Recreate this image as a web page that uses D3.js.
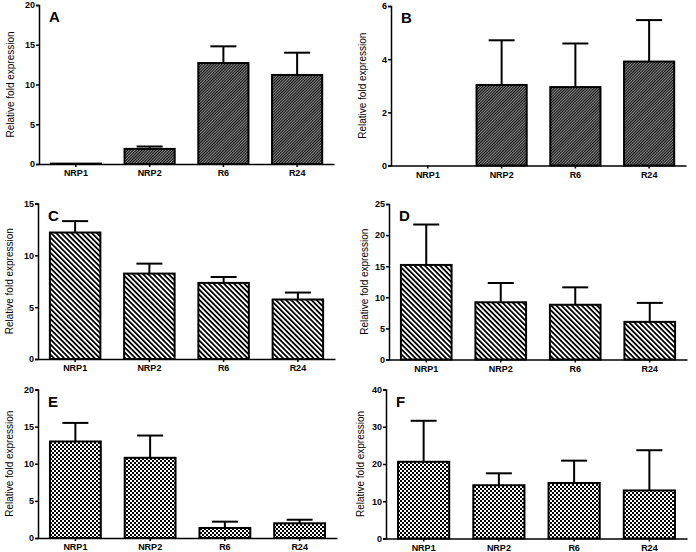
<!DOCTYPE html>
<html>
<head>
<meta charset="utf-8">
<script src="https://cdn.jsdelivr.net/npm/d3@7"></script>
<style>
  body { margin: 0; background: #fff; }
  svg text { font-family: "Liberation Sans", Arial, sans-serif; }
</style>
</head>
<body>
<div class="js-vis"></div>
<script>
// Data (mean and upper error)
const categories = ["NRP1", "NRP2", "R6", "R24"]

const valuesA = [0.05, 1.9, 12.7, 11.2],
    errorsA = [0, 0.3, 2.1, 2.8],
    ticksA = [0, 5, 10, 15, 20]

const valuesB = [0, 3.03, 2.95, 3.91],
    errorsB = [0, 1.68, 1.64, 1.56],
    ticksB = [0, 2, 4, 6]

const valuesC = [12.2, 8.24, 7.34, 5.74],
    errorsC = [1.1, 0.96, 0.57, 0.67],
    ticksC = [0, 5, 10, 15]

const valuesD = [15.2, 9.2, 8.8, 6.05],
    errorsD = [6.5, 3.1, 2.8, 3.05],
    ticksD = [0, 5, 10, 15, 20, 25]

const valuesE = [13.0, 10.8, 1.35, 1.98],
    errorsE = [2.5, 3.0, 0.85, 0.48],
    ticksE = [0, 5, 10, 15, 20]

const valuesF = [20.6, 14.3, 14.9, 12.9],
    errorsF = [11.0, 3.2, 6.0, 10.8],
    ticksF = [0, 10, 20, 30, 40]

const panels = [
  { letter: "A", values: valuesA, errors: errorsA, ticks: ticksA, fill: "hatch", x0: 39, x1: 334, top: 5, bottom: 164, labOff: 25 },
  { letter: "B", values: valuesB, errors: errorsB, ticks: ticksB, fill: "hatch", x0: 391, x1: 686, top: 6, bottom: 165.5, labOff: 25 },
  { letter: "C", values: valuesC, errors: errorsC, ticks: ticksC, fill: "stripe", x0: 38, x1: 335, top: 203.5, bottom: 359, labOff: 25 },
  { letter: "D", values: valuesD, errors: errorsD, ticks: ticksD, fill: "stripe", x0: 389, x1: 687, top: 204, bottom: 359.5, labOff: 21 },
  { letter: "E", values: valuesE, errors: errorsE, ticks: ticksE, fill: "checker", x0: 38, x1: 337, top: 389.5, bottom: 538, labOff: 25 },
  { letter: "F", values: valuesF, errors: errorsF, ticks: ticksF, fill: "checker", x0: 386, x1: 687, top: 389.5, bottom: 538.5, labOff: 22 }
]

const svg = d3.select(".js-vis").append("svg")
  .attr("width", 696)
  .attr("height", 552)

// fill patterns
const defs = svg.append("defs")

const hatch = defs.append("pattern")
  .attr("id", "hatch")
  .attr("patternUnits", "userSpaceOnUse")
  .attr("width", 2).attr("height", 2)
  .attr("patternTransform", "rotate(45)")
hatch.append("rect").attr("width", 2).attr("height", 2).attr("fill", "#888")
hatch.append("rect").attr("width", 1).attr("height", 2).attr("fill", "#111")

const stripe = defs.append("pattern")
  .attr("id", "stripe")
  .attr("patternUnits", "userSpaceOnUse")
  .attr("width", 3.6).attr("height", 3.6)
  .attr("patternTransform", "rotate(-45)")
stripe.append("rect").attr("width", 3.6).attr("height", 3.6).attr("fill", "#fff")
stripe.append("rect").attr("width", 1.8).attr("height", 3.6).attr("fill", "#000")

const checker = defs.append("pattern")
  .attr("id", "checker")
  .attr("patternUnits", "userSpaceOnUse")
  .attr("width", 4).attr("height", 4)
checker.append("rect").attr("width", 4).attr("height", 4).attr("fill", "#fff")
checker.append("rect").attr("width", 2).attr("height", 2).attr("fill", "#000")
checker.append("rect").attr("x", 2).attr("y", 2).attr("width", 2).attr("height", 2).attr("fill", "#000")

panels.forEach(p => {
  const max = p.ticks[p.ticks.length - 1]

  const x = d3.scaleBand()
    .domain(categories)
    .range([p.x0, p.x1])
    .paddingInner(0.32)
    .paddingOuter(0.16)

  const y = d3.scaleLinear()
    .domain([0, max])
    .range([p.bottom, p.top])

  const g = svg.append("g")

  const data = categories.map((c, i) => ({ cat: c, v: p.values[i], e: p.errors[i] }))

  // error bars (upper only), drawn under the bars
  const err = g.append("g").selectAll("g")
    .data(data.filter(d => d.e > 0))
    .enter().append("g")
  err.append("line")
    .attr("x1", d => x(d.cat) + x.bandwidth() / 2)
    .attr("x2", d => x(d.cat) + x.bandwidth() / 2)
    .attr("y1", d => y(d.v))
    .attr("y2", d => y(d.v + d.e))
    .attr("stroke", "#000")
    .attr("stroke-width", 2)
  err.append("line")
    .attr("x1", d => x(d.cat) + x.bandwidth() / 2 - 13)
    .attr("x2", d => x(d.cat) + x.bandwidth() / 2 + 13)
    .attr("y1", d => y(d.v + d.e))
    .attr("y2", d => y(d.v + d.e))
    .attr("stroke", "#000")
    .attr("stroke-width", 2)

  g.append("g").selectAll("rect")
    .data(data.filter(d => d.v > 0))
    .enter().append("rect")
    .attr("x", d => x(d.cat))
    .attr("y", d => y(d.v))
    .attr("width", x.bandwidth())
    .attr("height", d => y(0) - y(d.v))
    .attr("fill", "url(#" + p.fill + ")")
    .attr("stroke", "#000")
    .attr("stroke-width", 2)

  g.append("g")
    .attr("transform", "translate(" + p.x0 + ",0)")
    .call(d3.axisLeft(y).tickValues(p.ticks).tickFormat(d3.format("d")).tickSize(3).tickPadding(1))
  g.append("g")
    .attr("transform", "translate(0," + p.bottom + ")")
    .call(d3.axisBottom(x).tickSize(3).tickPadding(3).tickSizeOuter(0))

  g.selectAll(".domain, .tick line")
    .attr("stroke", "#000")
    .attr("stroke-width", 1.5)
  g.selectAll(".tick text")
    .attr("fill", "#000")
    .style("font-size", "9px")
    .style("font-weight", "bold")

  g.append("text")
    .attr("transform", "translate(" + (p.x0 - p.labOff) + "," + ((p.top + p.bottom) / 2) + ") rotate(-90)")
    .attr("text-anchor", "middle")
    .style("font-size", "10px")
    .text("Relative fold expression")

  g.append("text")
    .attr("x", p.x0 + 10)
    .attr("y", p.top + 17)
    .style("font-size", "15px")
    .style("font-weight", "900")
    .text(p.letter)
})
</script>
</body>
</html>
